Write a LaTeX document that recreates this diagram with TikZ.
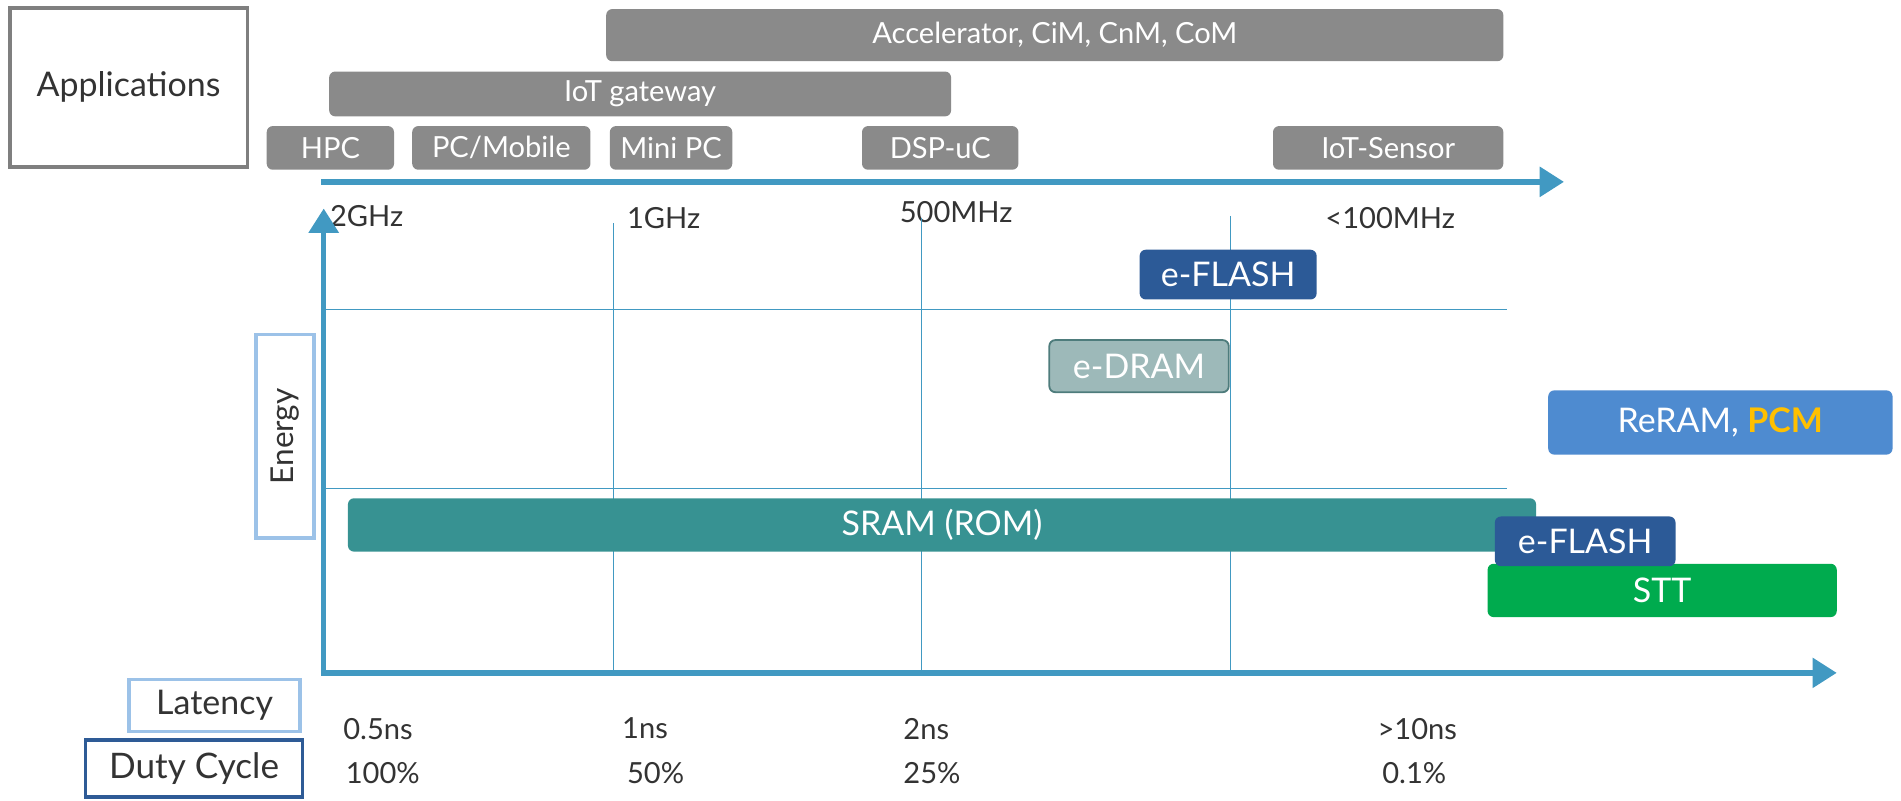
\documentclass[tikz,border=0pt]{standalone}
\usepackage{fontspec}
\setmainfont{Lato}
\usetikzlibrary{arrows.meta}
\definecolor{axisblue}{HTML}{4199C2}
\definecolor{appgray}{HTML}{8A8A8A}
\definecolor{framegray}{HTML}{7F7F7F}
\definecolor{txt}{HTML}{333333}
\definecolor{flashblue}{HTML}{2C5A97}
\definecolor{dramfill}{HTML}{9DB9B9}
\definecolor{dramedge}{HTML}{4E7C7C}
\definecolor{reramblue}{HTML}{4E8BD0}
\definecolor{sramteal}{HTML}{379292}
\definecolor{sttgreen}{HTML}{00AB4E}
\definecolor{pcmgold}{HTML}{FFC000}
\definecolor{lightframe}{HTML}{9CC2E8}
\definecolor{darkframe}{HTML}{2E5B96}
\tikzset{
  fs/.style={font=\fontsize{#1}{#1}\selectfont},
  gbox/.style={fill=appgray, text=white, rounded corners=5pt, inner sep=0pt, fs=24},
  memb/.style={rounded corners=5pt, inner sep=0pt, text=white, fs=28},
  axisline/.style={draw=axisblue, line width=4.5pt},
  gridline/.style={draw=axisblue, line width=1pt},
  tick/.style={text=txt, fs=24, inner sep=0pt, anchor=west},
  label/.style={text=txt, inner sep=0pt, fs=28},
  tip/.style={-{Triangle[length=20pt,width=24pt]}}
}
\begin{document}
\begin{tikzpicture}[x=1pt,y=-1pt]
\useasboundingbox (0,0) rectangle (1568,660);

% row labels on the left
\node[label, draw=framegray, line width=3pt, minimum width=196pt, minimum height=131pt] (apps) at (106,72) {Applications};
\node[label, fs=26, rotate=90, draw=lightframe, line width=3pt, minimum width=168pt, minimum height=48pt] (energy) at (235,360) {Energy};
\node[label, draw=lightframe, line width=3pt, minimum width=141pt, minimum height=43pt] (lat) at (177,582) {Latency};
\node[label, fs=29, draw=darkframe, line width=3pt, minimum width=179pt, minimum height=47pt] (duty) at (160,634) {Duty Cycle};

% application bands
\node[gbox, minimum width=740pt, minimum height=43pt] (acc) at (870,29) {Accelerator, CiM, CnM, CoM};
\node[gbox, minimum width=513pt, minimum height=37pt] (gw) at (528,77.5) {IoT gateway};
\node[gbox, minimum width=105pt, minimum height=36pt] (hpc) at (272.5,122) {HPC};
\node[gbox, minimum width=147pt, minimum height=36pt] (pcm) at (413.5,122) {PC/Mobile};
\node[gbox, minimum width=101pt, minimum height=36pt] (mini) at (553.5,122) {Mini PC};
\node[gbox, minimum width=129pt, minimum height=36pt] (dsp) at (775.5,122) {DSP-uC};
\node[gbox, minimum width=190pt, minimum height=36pt] (sens) at (1145,122) {IoT-Sensor};

% frequency axis
\coordinate (f0) at (265,150);
\coordinate (f1) at (1290,150);
\draw[axisline, tip] (f0) -- (f1);
\node[tick] (g2) at (272,178) {2GHz};
\node[tick] (g1) at (517,180) {1GHz};
\node[tick] (m500) at (742,175) {500MHz};
\node[tick] (m100) at (1093,180) {<100MHz};

% grid
\coordinate (o) at (267,555);
\coordinate (ytop) at (267,172);
\coordinate (xend) at (1515,555);
\foreach \gx/\gy in {506/184, 760/180, 1015/178}
  \draw[gridline] (\gx,\gy) -- (\gx,555);
\foreach \gy in {255, 403}
  \draw[gridline] (267,\gy) -- (1243,\gy);

% energy / latency axes
\draw[axisline, {Triangle[length=20pt,width=24pt]}-{Triangle[length=20pt,width=24pt]}] (ytop) -- (o) -- (xend);

% memory technologies
\node[memb, fill=flashblue, minimum width=146pt, minimum height=41pt] (fl1) at (1013,226.5) {e-FLASH};
\node[memb, fill=dramfill, draw=dramedge, line width=1.5pt, minimum width=148pt, minimum height=43pt] (dram) at (939.5,302) {e-DRAM};
\node[memb, fill=reramblue, minimum width=284pt, minimum height=53pt] (reram) at (1419,348.5) {ReRAM, \textbf{\color{pcmgold}PCM}};
\node[memb, fill=sramteal, minimum width=980pt, minimum height=44pt] (sram) at (777,433) {SRAM (ROM)};
\node[memb, fill=sttgreen, minimum width=288pt, minimum height=44pt] (stt) at (1371,487) {STT};
\node[memb, fill=flashblue, minimum width=149pt, minimum height=41pt] (fl2) at (1307.5,446.5) {e-FLASH};

% latency and duty-cycle values
\node[tick] (l1) at (283,601) {0.5ns};
\node[tick] (l2) at (513,601) {1ns};
\node[tick] (l3) at (745,601) {2ns};
\node[tick] (l4) at (1136,601) {>10ns};
\node[tick] (d1) at (285,638) {100\%};
\node[tick] (d2) at (517,638) {50\%};
\node[tick] (d3) at (745,638) {25\%};
\node[tick] (d4) at (1140,638) {0.1\%};
\end{tikzpicture}
\end{document}
